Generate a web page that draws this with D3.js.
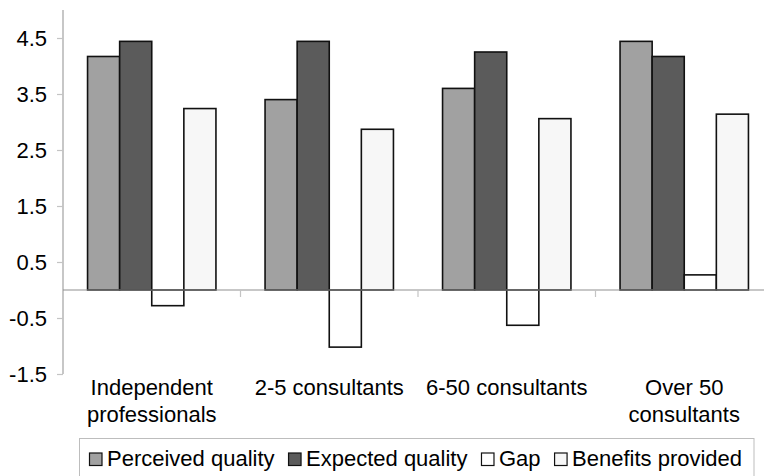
<!DOCTYPE html>
<html>
<head>
<meta charset="utf-8">
<script src="https://cdn.jsdelivr.net/npm/d3@7"></script>
<style>
  html, body { margin: 0; padding: 0; background: #fff; }
  svg { display: block; }
  text { font-family: "Liberation Sans", Arial, Helvetica, sans-serif; fill: #000; }
</style>
</head>
<body>
<svg id="chart" width="764" height="476"></svg>
<script>
const categories = [["Independent", "professionals"], ["2-5 consultants"], ["6-50 consultants"], ["Over 50", "consultants"]];
const categoryKeys = ["Independent professionals", "2-5 consultants", "6-50 consultants", "Over 50 consultants"];
const seriesNames = ["Perceived quality", "Expected quality", "Gap", "Benefits provided"];
const perceived = [4.17, 3.40, 3.60, 4.44];
const expected  = [4.44, 4.44, 4.25, 4.17];
const gap       = [-0.28, -1.02, -0.63, 0.27];
const benefits  = [3.24, 2.87, 3.06, 3.14];
const yTicks = [-1.5, -0.5, 0.5, 1.5, 2.5, 3.5, 4.5];
const yTickLabels = ["-1.5", "-0.5", "0.5", "1.5", "2.5", "3.5", "4.5"];
const colors = ["#a1a1a1", "#5b5b5b", "#ffffff", "#f7f7f7"];

const seriesValues = [perceived, expected, gap, benefits];

const svg = d3.select("#chart");
const fontSize = 22;

const y = d3.scaleLinear().domain([-1.5, 5]).range([374, 10]);
const x = d3.scaleBand().domain(categoryKeys).range([63, 773]).paddingInner(0).paddingOuter(0);
const xs = d3.scaleBand().domain(seriesNames).range([0, x.bandwidth()]).paddingInner(0).paddingOuter(0.765);

// bars
const g = svg.append("g");
categoryKeys.forEach((c, ci) => {
  seriesNames.forEach((s, si) => {
    const v = seriesValues[si][ci];
    g.append("rect")
      .attr("x", x(c) + xs(s))
      .attr("width", xs.bandwidth())
      .attr("y", y(Math.max(0, v)))
      .attr("height", Math.abs(y(v) - y(0)))
      .attr("fill", colors[si])
      .attr("stroke", "#111")
      .attr("stroke-width", 1.6);
  });
});

// zero line with category separator ticks
const zeroG = svg.append("g");
zeroG.append("line")
  .attr("x1", x.range()[0]).attr("x2", x.range()[1])
  .attr("y1", y(0)).attr("y2", y(0))
  .attr("stroke", "#8f8f8f").attr("stroke-width", 1);
categoryKeys.slice(1).forEach(c => {
  zeroG.append("line")
    .attr("x1", x(c)).attr("x2", x(c))
    .attr("y1", y(0)).attr("y2", y(0) + 7)
    .attr("stroke", "#c4c4c4").attr("stroke-width", 1.2);
});

// y axis
const yAxis = d3.axisLeft(y).tickValues(yTicks).tickSize(6).tickPadding(10)
  .tickFormat((d, i) => yTickLabels[i]);
const ya = svg.append("g").attr("transform", `translate(${x.range()[0]},0)`).call(yAxis);
ya.select(".domain").attr("stroke", "#8f8f8f").attr("d", `M0,${y(5)}V${y(-1.5)}`);
ya.selectAll(".tick line").attr("stroke", "#c4c4c4").attr("stroke-width", 1.2);
ya.selectAll(".tick text")
  .attr("font-size", fontSize)
  .attr("font-family", '"Liberation Sans", Arial, sans-serif')
  .attr("fill", "#000")
  .attr("dy", "0.36em");

// category labels
categoryKeys.forEach((c, ci) => {
  const t = svg.append("text")
    .attr("x", x(c) + x.bandwidth() / 2)
    .attr("y", 395)
    .attr("text-anchor", "middle")
    .attr("font-size", fontSize);
  categories[ci].forEach((line, li) => {
    t.append("tspan")
      .attr("x", x(c) + x.bandwidth() / 2)
      .attr("dy", li === 0 ? 0 : 27)
      .text(line);
  });
});

// legend
const legend = svg.append("g");
legend.append("rect")
  .attr("x", 79.5).attr("y", 438.5)
  .attr("width", 674.5).attr("height", 60)
  .attr("fill", "none").attr("stroke", "#bdbdbd").attr("stroke-width", 1);
let lx = 89.5;
seriesNames.forEach((s, si) => {
  legend.append("rect")
    .attr("x", lx).attr("y", 453)
    .attr("width", 12.5).attr("height", 12.5)
    .attr("fill", colors[si])
    .attr("stroke", "#111").attr("stroke-width", 1.2);
  const t = legend.append("text")
    .attr("x", lx + 17.5).attr("y", 465.5)
    .attr("font-size", fontSize)
    .text(s);
  lx = lx + 17.5 + t.node().getComputedTextLength() + 14;
});
</script>
</body>
</html>
